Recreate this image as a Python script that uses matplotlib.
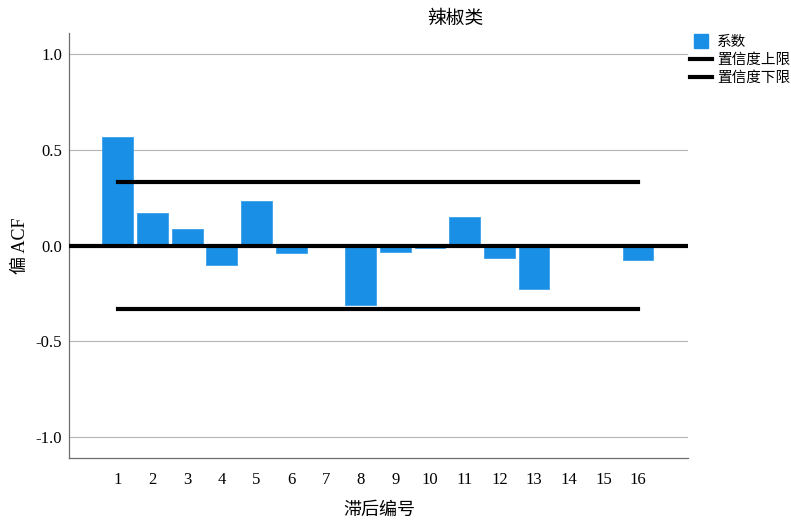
import matplotlib
matplotlib.use('Agg')
import matplotlib.pyplot as plt
from matplotlib.lines import Line2D

FONT = ['Liberation Serif', 'Noto Sans CJK SC', 'DejaVu Sans']
plt.rcParams['font.family'] = FONT

lags = list(range(1, 17))
pacf = [0.568, 0.171, 0.084, -0.101, 0.231, -0.040, 0.003, -0.312,
        -0.035, -0.012, 0.151, -0.063, -0.228, -0.004, 0.002, -0.075]
upper_limit = [0.333] * 16
lower_limit = [-0.333] * 16
yticks = [-1.0, -0.5, 0.0, 0.5, 1.0]

bar_color = '#1A8FE6'

fig = plt.figure(figsize=(7.91, 5.2), dpi=100)
ax = fig.add_axes([69 / 791, 1 - 458 / 520, (688 - 69) / 791, (458 - 33) / 520])

ax.bar(lags, pacf, width=0.89, color=bar_color, edgecolor='#3AA0EC',
       linewidth=0.6, zorder=2)
ax.axhline(0, color='black', linewidth=3, zorder=3)
ax.plot(lags, upper_limit, color='black', linewidth=3, zorder=3)
ax.plot(lags, lower_limit, color='black', linewidth=3, zorder=3)

ax.set_xlim(-0.41, 17.44)
ax.set_ylim(-1.11, 1.11)
ax.set_xticks(lags)
ax.set_xticklabels([str(v) for v in lags])
ax.set_yticks(yticks)
ax.set_yticklabels([f'{v:.1f}' for v in yticks])
ax.tick_params(axis='both', length=0, labelsize=12)
ax.tick_params(axis='x', pad=10)
ax.tick_params(axis='y', pad=5)
ax.yaxis.grid(True, color='#b4b4b4', linewidth=0.8, zorder=0)
ax.set_axisbelow(True)
for side in ('top', 'right'):
    ax.spines[side].set_visible(False)
for side in ('left', 'bottom'):
    ax.spines[side].set_color('#6e6e6e')
    ax.spines[side].set_linewidth(0.9)

# axis labels placed in figure pixels to match the reference
fig.text(379 / 791, 1 - 510 / 520, '滞后编号', fontsize=13, ha='center', va='center')
fig.text(20 / 791, 1 - 246 / 520, '偏 ACF', fontsize=13, ha='center', va='center',
         rotation=90)
fig.text(455 / 791, 1 - 19 / 520, '辣椒类', fontsize=13.5, ha='center', va='center')

handles = [
    Line2D([0], [0], linestyle='none', marker='s', markersize=10,
           markerfacecolor=bar_color, markeredgecolor=bar_color),
    Line2D([0], [0], color='black', linewidth=3),
    Line2D([0], [0], color='black', linewidth=3),
]
labels = ['系数', '置信度上限', '置信度下限']
fig.legend(handles, labels, loc='upper left', bbox_to_anchor=(690 / 791, 1 - 36 / 520),
           frameon=False, fontsize=10.5, handlelength=1.5,
           handletextpad=0.35, labelspacing=0.3, borderaxespad=0, borderpad=0)

fig.savefig('out.png', dpi=100)
